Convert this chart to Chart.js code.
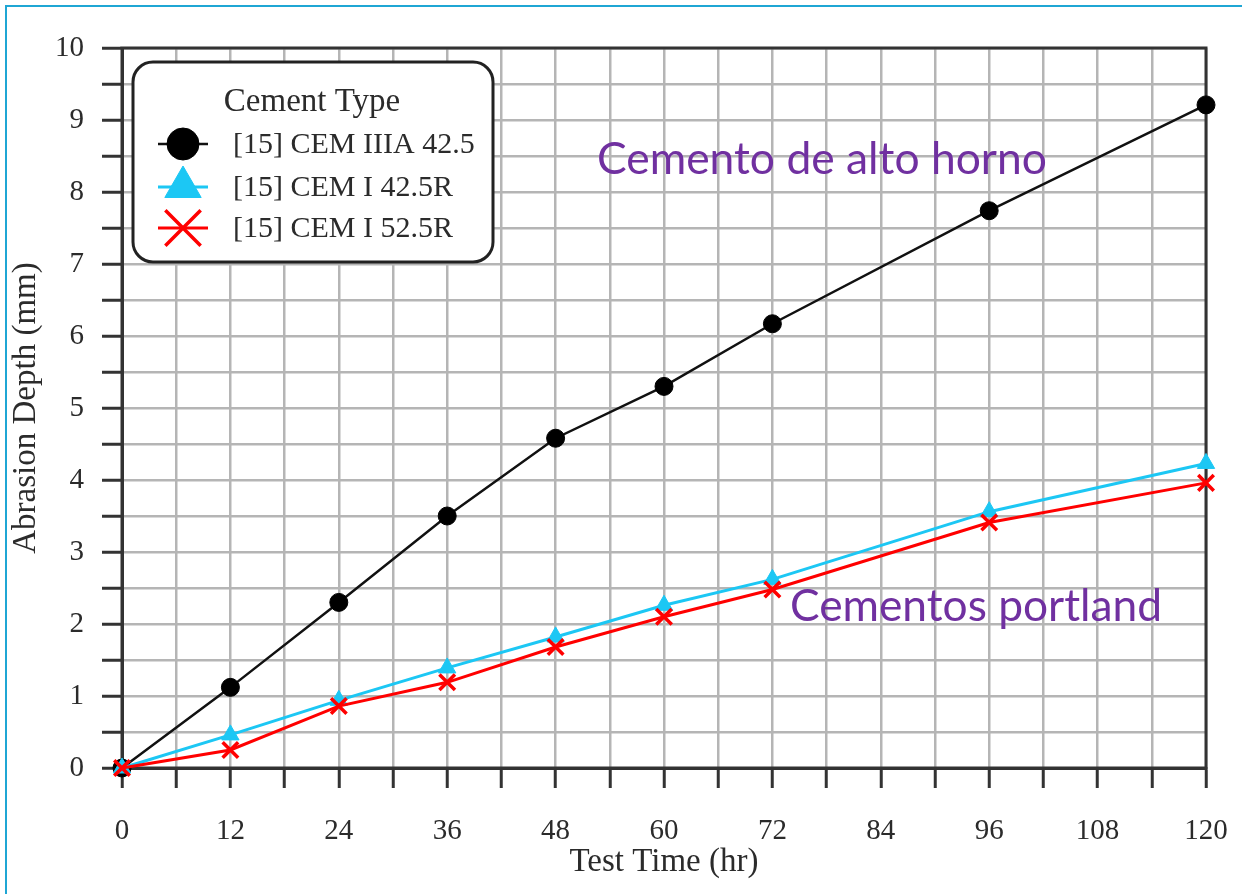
<!DOCTYPE html>
<html>
<head>
<meta charset="utf-8">
<title>Abrasion Depth vs Test Time</title>
<script src="https://cdn.jsdelivr.net/npm/chart.js@4/dist/chart.umd.min.js"></script>
<style>
  html, body { margin: 0; padding: 0; background: #fff; width: 1242px; height: 894px; overflow: hidden; }
  #frame { position: absolute; left: 5px; top: 5px; width: 1260px; height: 920px;
           border-left: 2px solid #1fa6d4; border-top: 2px solid #1fa6d4; }
  #wrap { position: absolute; left: 0; top: 0; width: 1242px; height: 894px; }
</style>
</head>
<body>
<div id="frame"></div>
<div id="wrap"><canvas id="chart" width="1242" height="894"></canvas></div>
<script>
// Test times (hr) and abrasion depths (mm) for each cement
const testHours  = [0, 12, 24, 36, 48, 60, 72, 96, 120];
const cemIIIA425 = [0, 1.12, 2.30, 3.50, 4.58, 5.30, 6.17, 7.74, 9.21];
const cemI425R   = [0, 0.46, 0.94, 1.39, 1.82, 2.26, 2.62, 3.56, 4.23];
const cemI525R   = [0, 0.25, 0.86, 1.19, 1.68, 2.10, 2.48, 3.41, 3.96];

const seriesNames = ['[15] CEM IIIA 42.5', '[15] CEM I 42.5R', '[15] CEM I 52.5R'];
const legendTitle = 'Cement Type';
const xTickLabels = [0, 12, 24, 36, 48, 60, 72, 84, 96, 108, 120];
const yTickLabels = [0, 1, 2, 3, 4, 5, 6, 7, 8, 9, 10];
const noteTexts   = ['Cemento de alto horno', 'Cementos portland'];
const xTitle = 'Test Time (hr)';
const yTitle = 'Abrasion Depth (mm)';

const SERIF = '"Liberation Serif", "Times New Roman", serif';
const TEXT = '#2b2b2b';
const PURPLE = '#7030a0';

const toPoints = ys => testHours.map((x, i) => ({ x: x, y: ys[i] }));

const datasets = [
  { label: seriesNames[0], data: toPoints(cemIIIA425), order: 2,
    borderColor: '#111', borderWidth: 2.5, backgroundColor: '#000',
    pointStyle: 'circle', pointRadius: 9, pointBorderWidth: 1,
    pointBackgroundColor: '#000', pointBorderColor: '#000' },
  { label: seriesNames[1], data: toPoints(cemI425R), order: 1,
    borderColor: '#1cc7f4', borderWidth: 3, backgroundColor: '#1cc7f4',
    pointStyle: 'triangle', pointRadius: 10, pointBorderWidth: 1,
    pointBackgroundColor: '#1cc7f4', pointBorderColor: '#1cc7f4' },
  { label: seriesNames[2], data: toPoints(cemI525R), order: 0,
    borderColor: '#ff0000', borderWidth: 3, backgroundColor: '#ff0000',
    pointStyle: 'crossRot', pointRadius: 11, pointBorderWidth: 3.5,
    pointBackgroundColor: '#ff0000', pointBorderColor: '#ff0000' }
].map(d => Object.assign(d, { clip: false, tension: 0, fill: false }));

// Dark frame round the plot area
const plotFrame = {
  id: 'plotFrame',
  beforeDatasetsDraw(chart) {
    const { ctx, chartArea: a } = chart;
    ctx.save();
    ctx.strokeStyle = '#333';
    ctx.lineWidth = 3;
    ctx.strokeRect(a.left, a.top, a.right - a.left, a.bottom - a.top);
    ctx.restore();
  }
};

// Rounded legend box with enlarged markers, plus the two purple notes
const legendAndNotes = {
  id: 'legendAndNotes',
  afterDatasetsDraw(chart) {
    const { ctx } = chart;
    ctx.save();

    const bx = 133, by = 62, bw = 360, bh = 200, br = 20;
    ctx.beginPath();
    ctx.moveTo(bx + br, by);
    ctx.arcTo(bx + bw, by, bx + bw, by + bh, br);
    ctx.arcTo(bx + bw, by + bh, bx, by + bh, br);
    ctx.arcTo(bx, by + bh, bx, by, br);
    ctx.arcTo(bx, by, bx + bw, by, br);
    ctx.closePath();
    ctx.fillStyle = '#fff';
    ctx.fill();
    ctx.strokeStyle = '#222';
    ctx.lineWidth = 3;
    ctx.stroke();

    ctx.fillStyle = TEXT;
    ctx.font = '33px ' + SERIF;
    ctx.textAlign = 'center';
    ctx.textBaseline = 'alphabetic';
    ctx.fillText(legendTitle, 312, 111);

    const rowY = [144, 187, 228];
    const markerR = [16, 21, 25];
    ctx.textAlign = 'left';
    ctx.font = '30px ' + SERIF;
    chart.data.datasets.forEach((ds, i) => {
      const cy = rowY[i];
      ctx.strokeStyle = ds.borderColor;
      ctx.lineWidth = ds.borderWidth;
      ctx.beginPath();
      ctx.moveTo(158, cy);
      ctx.lineTo(208, cy);
      ctx.stroke();
      ctx.fillStyle = ds.pointBackgroundColor;
      ctx.strokeStyle = ds.pointBorderColor;
      ctx.lineWidth = ds.pointBorderWidth;
      Chart.helpers.drawPoint(ctx, {
        pointStyle: ds.pointStyle, radius: markerR[i], rotation: 0,
        borderWidth: ds.pointBorderWidth
      }, 183, cy);
      ctx.fillStyle = TEXT;
      ctx.fillText(ds.label, 233, cy + 9);
    });

    // purple notes, sized to their set widths
    const fitFont = (text, width) => {
      ctx.font = '100px Lato';
      const w = ctx.measureText(text).width;
      return (100 * width / w).toFixed(1) + 'px Lato';
    };
    ctx.fillStyle = PURPLE;
    ctx.font = fitFont(noteTexts[0], 450);
    ctx.fillText(noteTexts[0], 597, 174);
    ctx.font = fitFont(noteTexts[1], 372);
    ctx.fillText(noteTexts[1], 790, 621);

    ctx.restore();
  }
};

new Chart(document.getElementById('chart'), {
  type: 'line',
  data: { datasets: datasets },
  options: {
    responsive: false,
    animation: false,
    devicePixelRatio: 1,
    layout: { padding: { left: 0, top: 48, right: 36, bottom: 0 } },
    plugins: { legend: { display: false }, tooltip: { enabled: false } },
    scales: {
      x: {
        type: 'linear', min: 0, max: 120,
        afterFit(s) { s.height = 126; s.paddingLeft = 0; s.paddingRight = 0; },
        ticks: {
          stepSize: 6, autoSkip: false, maxRotation: 0, minRotation: 0, padding: 26,
          color: TEXT, font: { family: SERIF, size: 29 },
          callback: v => xTickLabels.includes(v) ? String(v) : ''
        },
        grid: { color: '#b5b5b5', lineWidth: 2.5, tickLength: 20, tickColor: '#333', tickWidth: 3 },
        border: { display: true, color: '#333', width: 3 },
        title: { display: true, text: xTitle, color: TEXT,
                 font: { family: SERIF, size: 33 }, padding: { top: 0, bottom: 12 } }
      },
      y: {
        type: 'linear', min: 0, max: 10,
        afterFit(s) { s.width = 122; },
        ticks: {
          stepSize: 0.5, autoSkip: false, padding: 18,
          color: TEXT, font: { family: SERIF, size: 29 },
          callback: v => yTickLabels.includes(v) ? String(v) : ''
        },
        grid: { color: '#b5b5b5', lineWidth: 2.5, tickLength: 20, tickColor: '#333', tickWidth: 3 },
        border: { display: true, color: '#333', width: 3 },
        title: { display: true, text: yTitle, color: TEXT,
                 font: { family: SERIF, size: 33 }, padding: { top: 7, bottom: 0 } }
      }
    }
  },
  plugins: [plotFrame, legendAndNotes]
});
</script>
</body>
</html>
